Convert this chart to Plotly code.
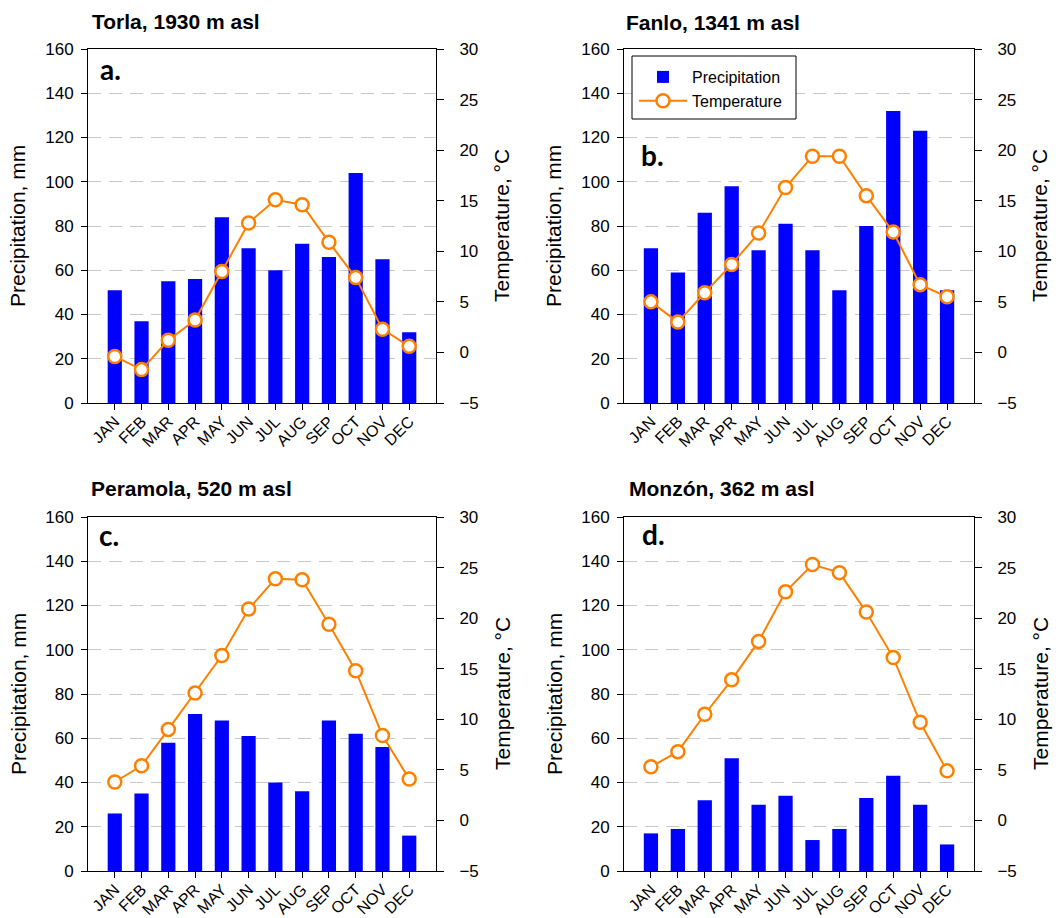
import plotly.graph_objects as go

W, H = 1062, 918

months = ["JAN", "FEB", "MAR", "APR", "MAY", "JUN", "JUL", "AUG", "SEP", "OCT", "NOV", "DEC"]

titles = ["Torla, 1930 m asl", "Fanlo, 1341 m asl", "Peramola, 520 m asl", "Monzón, 362 m asl"]
panel_labels = ["a.", "b.", "c.", "d."]

precip_torla = [51, 37, 55, 56, 84, 70, 60, 72, 66, 104, 65, 32]
temp_torla = [-0.4, -1.7, 1.2, 3.2, 8.0, 12.8, 15.1, 14.6, 10.9, 7.4, 2.3, 0.6]

precip_fanlo = [70, 59, 86, 98, 69, 81, 69, 51, 80, 132, 123, 51]
temp_fanlo = [5.0, 3.0, 5.9, 8.7, 11.8, 16.3, 19.4, 19.4, 15.5, 11.9, 6.7, 5.5]

precip_peramola = [26, 35, 58, 71, 68, 61, 40, 36, 68, 62, 56, 16]
temp_peramola = [3.8, 5.4, 9.0, 12.6, 16.3, 20.9, 23.9, 23.8, 19.4, 14.8, 8.4, 4.1]

precip_monzon = [17, 19, 32, 51, 30, 34, 14, 19, 33, 43, 30, 12]
temp_monzon = [5.3, 6.8, 10.5, 13.9, 17.7, 22.6, 25.3, 24.5, 20.6, 16.1, 9.7, 4.9]

precip_ticks = [0, 20, 40, 60, 80, 100, 120, 140, 160]
temp_ticks = [-5, 0, 5, 10, 15, 20, 25, 30]

precip = [precip_torla, precip_fanlo, precip_peramola, precip_monzon]
temps = [temp_torla, temp_fanlo, temp_peramola, temp_monzon]

BLUE = "#0000FF"
ORANGE = "#FF8000"
FONT = "Liberation Sans, Arial, sans-serif"

# plot area boxes in pixels: (left, right, top, bottom)
boxes = [(88, 436, 49, 403), (624, 974, 49, 403), (88, 436, 517, 871), (624, 974, 517, 871)]
title_pos = [(90, 21), (624, 23), (89, 488), (627, 488)]
label_pos = [(100, 69), (641, 155), (99, 535), (642, 534)]
ytitle_left_x = [18, 554, 18, 554]
ytitle_right_x = [502, 1040, 502, 1040]
legend_box = (632, 56, 796, 119)


def px(x):
    return x / W


def py(y):
    return 1 - y / H


fig = go.Figure()
layout = dict(
    width=W, height=H,
    margin=dict(l=0, r=0, t=0, b=0, pad=0, autoexpand=False),
    paper_bgcolor="white", plot_bgcolor="white",
    bargap=0.47,
    font=dict(family=FONT, size=17, color="black"),
    showlegend=True,
    legend=dict(
        x=px(legend_box[0] + 2), y=py(legend_box[1] + 4), xanchor="left", yanchor="top",
        bgcolor="rgba(0,0,0,0)", borderwidth=0,
        font=dict(family=FONT, size=16, color="black"),
        itemwidth=48,
    ),
    annotations=[],
    shapes=[dict(
        type="rect", xref="paper", yref="paper",
        x0=px(legend_box[0]), x1=px(legend_box[2]),
        y0=py(legend_box[3]), y1=py(legend_box[1]),
        line=dict(color="black", width=1), fillcolor="white", layer="above",
    )],
)

for i in range(4):
    l, r, t, b = boxes[i]
    xa = f"x{i + 1}" if i > 0 else "x"
    ya = f"y{2 * i + 1}" if i > 0 else "y"
    yb = f"y{2 * i + 2}"
    xkey = "xaxis" if i == 0 else f"xaxis{i + 1}"
    ykey = "yaxis" if i == 0 else f"yaxis{2 * i + 1}"
    y2key = f"yaxis{2 * i + 2}"

    fig.add_trace(go.Bar(
        x=months, y=precip[i], name="Precipitation",
        marker=dict(color=BLUE, line=dict(width=0)),
        xaxis=xa, yaxis=ya, showlegend=(i == 1),
    ))
    fig.add_trace(go.Scatter(
        x=months, y=temps[i], name="Temperature", mode="lines+markers",
        line=dict(color=ORANGE, width=2),
        marker=dict(symbol="circle", size=13, color="white",
                    line=dict(color=ORANGE, width=2.5)),
        xaxis=xa, yaxis=yb, showlegend=(i == 1),
    ))

    layout[xkey] = dict(
        domain=[px(l), px(r)], anchor=ya, automargin=False,
        type="category", categoryorder="array", categoryarray=months,
        range=[-1, 12],
        showline=True, linecolor="black", linewidth=1, mirror=True,
        ticks="outside", ticklen=6, tickcolor="black", tickwidth=1,
        tickangle=-45, tickfont=dict(family=FONT, size=16), ticklabelstandoff=-4,
        showgrid=False, zeroline=False, fixedrange=True,
    )
    layout[ykey] = dict(
        domain=[py(b), py(t)], anchor=xa, automargin=False,
        range=[0, 160], tickvals=precip_ticks,
        showline=True, linecolor="black", linewidth=1,
        ticks="outside", ticklen=6, tickcolor="black", tickwidth=1,
        tickfont=dict(family=FONT, size=17), ticklabelstandoff=4,
        showgrid=True, gridcolor="#C8C8C8", gridwidth=1, griddash="13px,8px",
        zeroline=False,
    )
    layout[y2key] = dict(
        domain=[py(b), py(t)], anchor=xa, overlaying=ya, side="right",
        automargin=False,
        range=[-5, 30], tickvals=temp_ticks,
        showline=True, linecolor="black", linewidth=1,
        ticks="outside", ticklen=7, tickcolor="black", tickwidth=1,
        tickfont=dict(family=FONT, size=17), ticklabelstandoff=12,
        showgrid=False, zeroline=False,
    )

    tx, ty = title_pos[i]
    layout["annotations"].append(dict(
        text=f"<b>{titles[i]}</b>", xref="paper", yref="paper",
        x=px(tx), y=py(ty), xanchor="left", yanchor="middle", showarrow=False,
        font=dict(family=FONT, size=21, color="black"),
    ))
    lx, ly = label_pos[i]
    layout["annotations"].append(dict(
        text=f"<b>{panel_labels[i]}</b>", xref="paper", yref="paper",
        x=px(lx - 2), y=py(ly), xanchor="left", yanchor="middle", showarrow=False,
        font=dict(family="Lato, Open Sans, sans-serif", size=28, color="black"),
    ))
    cy = (t + b) / 2
    layout["annotations"].append(dict(
        text="Precipitation, mm", xref="paper", yref="paper",
        x=px(ytitle_left_x[i]), y=py(cy), xanchor="center", yanchor="middle",
        textangle=-90, showarrow=False,
        font=dict(family=FONT, size=21, color="black"),
    ))
    layout["annotations"].append(dict(
        text="Temperature, °C", xref="paper", yref="paper",
        x=px(ytitle_right_x[i]), y=py(cy), xanchor="center", yanchor="middle",
        textangle=-90, showarrow=False,
        font=dict(family=FONT, size=21, color="black"),
    ))

fig.update_layout(**layout)
fig.write_html("out.html")
